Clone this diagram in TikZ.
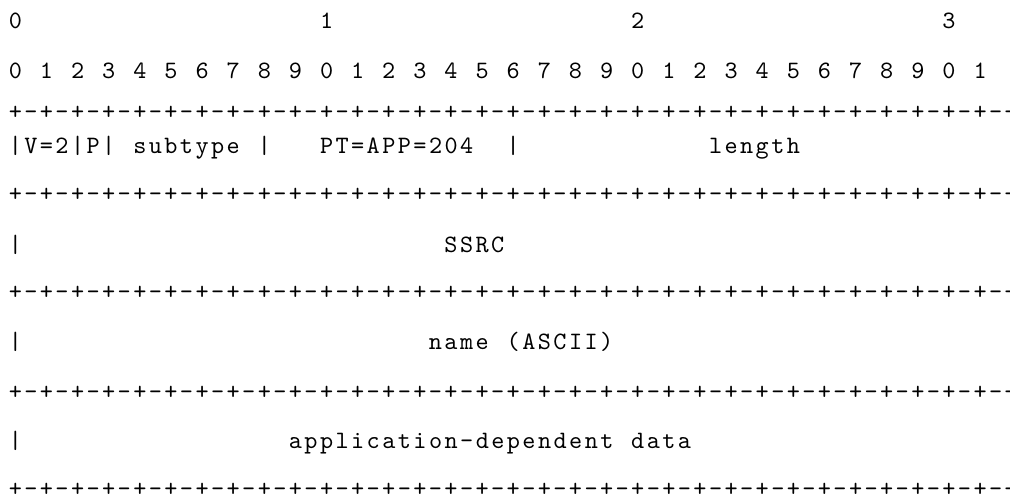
\documentclass[tikz,border=0pt]{standalone}
\usepackage{fontspec}
\newfontfamily\asciifont{lmmono10-regular.otf}[LetterSpace=9.8]

\begin{document}
\begin{tikzpicture}[x = 0.5pt, y = -0.5pt,
    ascii/.style = {font = \asciifont\fontsize{12.5}{12.5}\selectfont,
                    inner sep = 0pt, anchor = base west}]
  \def\colw{15.56}
  \def\colx{8.4}
  \useasboundingbox (0, 0) rectangle (1010, 499);

  % bit numbers
  \foreach \c/\n in {0/0, 20/1, 40/2, 60/3}
    \node[ascii] (ten\n) at ({\colx + \colw*\c}, 28) {\n};
  \foreach \i in {0, ..., 31} {
    \pgfmathtruncatemacro{\d}{mod(\i, 10)}
    \node[ascii] (bit\i) at ({\colx + \colw*2*\i}, 78) {\d};
  }

  % separator lines
  \foreach \r/\y in {2/119, 4/201, 6/299, 8/399, 10/496} {
    \foreach \c in {0, 2, ..., 64}
      \node[ascii] (sep\r-\c) at ({\colx + \colw*\c}, \y) {+};
    \foreach \c in {1, 3, ..., 63}
      \node[ascii] (sep\r-\c) at ({\colx + \colw*\c}, \y) {-};
  }

  % header word
  \foreach \c/\t in {0/|, 1/V=2, 4/|, 5/P, 6/|, 8/subtype, 16/|,
                     20/PT=APP=204, 32/|, 45/length}
    \node[ascii] (hdr\c) at ({\colx + \colw*\c}, 153) {\t};

  % SSRC
  \node[ascii] (ssrcbar) at (\colx, 252) {|};
  \node[ascii] (ssrc) at ({\colx + \colw*28}, 252) {SSRC};

  % name
  \node[ascii] (namebar) at (\colx, 349.5) {|};
  \node[ascii] (name) at ({\colx + \colw*27}, 349.5) {name};
  \node[ascii] (nameascii) at ({\colx + \colw*32}, 349.5) {(ASCII)};

  % application data
  \node[ascii] (appbar) at (\colx, 448.5) {|};
  \node[ascii] (app) at ({\colx + \colw*18}, 448.5) {application-dependent};
  \node[ascii] (appdata) at ({\colx + \colw*40}, 448.5) {data};
\end{tikzpicture}
\end{document}
